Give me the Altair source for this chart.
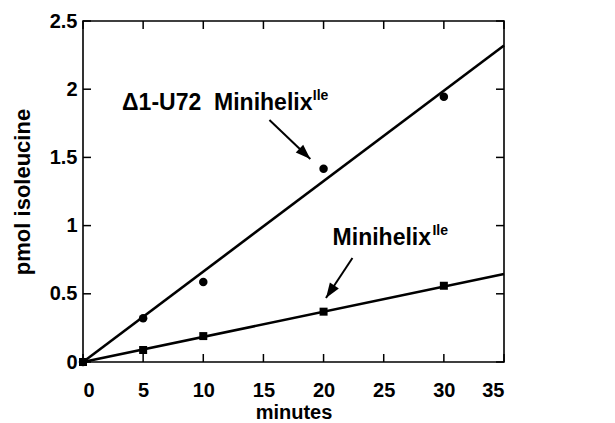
import altair as alt
import pandas as pd

# ---- data ----
minutes = [0, 5, 10, 20, 30]
delta_u72 = [0, 0.32, 0.587, 1.417, 1.945]      # circles
minihelix = [0, 0.088, 0.19, 0.369, 0.559]      # squares
fit_x = [0, 35]
fit_delta = [0, 2.32]
fit_mini = [0, 0.645]
x_ticks = [0, 5, 10, 15, 20, 25, 30, 35]
y_ticks = [0, 0.5, 1, 1.5, 2, 2.5]

# annotation texts
ann_main = ["\u03941-U72\u00a0 Minihelix", "Minihelix"]
ann_sup = ["Ile", "Ile"]
ann_x = [3.25, 20.75]
ann_y = [1.847, 0.858]
sup_x = [19.1, 29.05]
sup_y = [1.92, 0.93]

# arrows
arr_x0 = [15.5, 22.4]
arr_y0 = [1.774, 0.762]
arr_x1 = [18.9, 20.2]
arr_y1 = [1.488, 0.469]
arr_angle = [133.6, 214]

FONT = "Liberation Sans"
W, H, TK = 421, 341, 8

pts = pd.DataFrame({"x": minutes, "d": delta_u72, "m": minihelix})
fits = pd.DataFrame({
    "x": fit_x + fit_x,
    "y": fit_delta + fit_mini,
    "s": ["delta"] * 2 + ["mini"] * 2,
})
ann = pd.DataFrame({"t": ann_main, "x": ann_x, "y": ann_y})
sup = pd.DataFrame({"t": ann_sup, "x": sup_x, "y": sup_y})
arr = pd.DataFrame({"x0": arr_x0, "y0": arr_y0, "x1": arr_x1, "y1": arr_y1, "a": arr_angle})
xt = pd.DataFrame({"v": x_ticks})
yt = pd.DataFrame({"v": y_ticks})

xs = alt.Scale(domain=[0, 35], nice=False, zero=False)
ys = alt.Scale(domain=[0, 2.5], nice=False, zero=False)

x_axis_bottom = alt.Axis(
    orient="bottom", values=x_ticks, ticks=False, tickSize=0, domain=False, grid=False,
    labelFont=FONT, labelFontSize=20, labelFontWeight="bold", labelColor="black",
    labelPadding=18, title="minutes", titleFont=FONT, titleFontSize=20,
    titleFontWeight="bold", titleColor="black", titlePadding=2,
)
y_axis_left = alt.Axis(
    orient="left", values=y_ticks, format="~g", ticks=False, tickSize=0,
    domain=False, grid=False,
    labelFont=FONT, labelFontSize=20, labelFontWeight="bold", labelColor="black",
    labelPadding=6, title="pmol isoleucine", titleFont=FONT, titleFontSize=22,
    titleFontWeight="bold", titleColor="black", titlePadding=15,
)

lines = alt.Chart(fits).mark_line(color="black", strokeWidth=2.6).encode(
    x=alt.X("x:Q", scale=xs, axis=x_axis_bottom),
    y=alt.Y("y:Q", scale=ys, axis=y_axis_left),
    detail="s:N",
)

circles = alt.Chart(pts).mark_point(
    shape="circle", filled=True, color="black", size=72, opacity=1
).encode(x=alt.X("x:Q", scale=xs), y=alt.Y("d:Q", scale=ys))

squares = alt.Chart(pts).mark_point(
    shape="square", filled=True, color="black", size=64, opacity=1
).encode(x=alt.X("x:Q", scale=xs), y=alt.Y("m:Q", scale=ys))

# inward ticks on all four sides
tick_style = dict(color="black", strokeWidth=1.5)
ticks_bottom = alt.Chart(xt).mark_rule(**tick_style).encode(
    x=alt.X("v:Q", scale=xs), y=alt.value(H), y2=alt.value(H - TK))
ticks_top = alt.Chart(xt).mark_rule(**tick_style).encode(
    x=alt.X("v:Q", scale=xs), y=alt.value(0), y2=alt.value(TK))
ticks_left = alt.Chart(yt).mark_rule(**tick_style).encode(
    y=alt.Y("v:Q", scale=ys), x=alt.value(0), x2=alt.value(TK))
ticks_right = alt.Chart(yt).mark_rule(**tick_style).encode(
    y=alt.Y("v:Q", scale=ys), x=alt.value(W), x2=alt.value(W - TK))

shafts = alt.Chart(arr).mark_rule(color="black", strokeWidth=2).encode(
    x=alt.X("x0:Q", scale=xs),
    y=alt.Y("y0:Q", scale=ys),
    x2="x1:Q",
    y2="y1:Q",
)

heads = alt.Chart(arr).mark_point(
    shape="M0,0L-0.36,1L0.36,1Z", filled=True, color="black", size=900, opacity=1
).encode(
    x=alt.X("x1:Q", scale=xs),
    y=alt.Y("y1:Q", scale=ys),
    angle=alt.Angle("a:Q", scale=None),
)

main_text = alt.Chart(ann).mark_text(
    font=FONT, fontSize=23, fontWeight="bold", color="black",
    align="left", baseline="alphabetic",
).encode(x=alt.X("x:Q", scale=xs), y=alt.Y("y:Q", scale=ys), text="t:N")

sup_text = alt.Chart(sup).mark_text(
    font=FONT, fontSize=14, fontWeight="bold", color="black",
    align="left", baseline="alphabetic",
).encode(x=alt.X("x:Q", scale=xs), y=alt.Y("y:Q", scale=ys), text="t:N")

chart = alt.layer(
    lines, ticks_bottom, ticks_top, ticks_left, ticks_right,
    circles, squares, shafts, heads, main_text, sup_text
).properties(
    width=W, height=H,
    autosize=alt.AutoSizeParams(type="none"),
    padding={"left": 75, "top": 13, "right": 100, "bottom": 61},
    background="white",
).configure_view(stroke="black", strokeWidth=1.6)

chart.save("out.html", embed_options={"renderer": "svg", "actions": False})
